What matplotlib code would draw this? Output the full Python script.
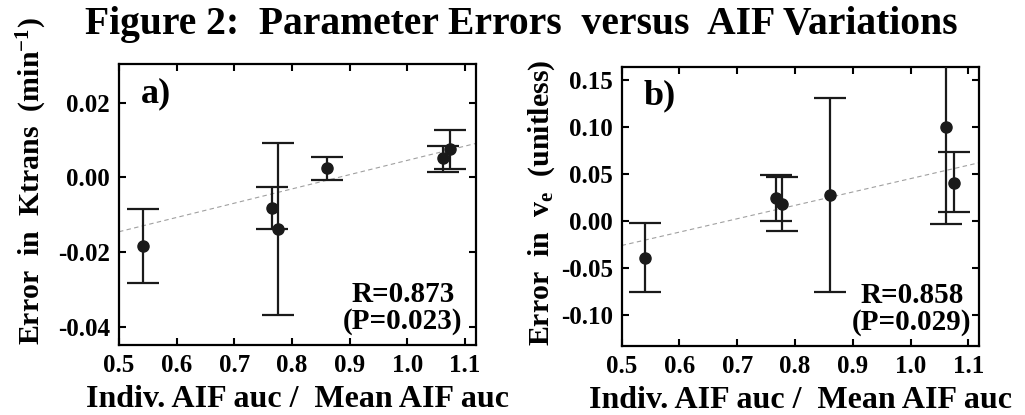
import matplotlib
matplotlib.use("Agg")
import matplotlib.pyplot as plt
import numpy as np

plt.rcParams['font.family'] = ['Liberation Serif', 'DejaVu Serif']
plt.rcParams['font.weight'] = 'bold'
plt.rcParams['mathtext.fontset'] = 'custom'
plt.rcParams['mathtext.rm'] = 'Liberation Serif:bold'
plt.rcParams['mathtext.it'] = 'Liberation Serif:bold'
plt.rcParams['mathtext.bf'] = 'Liberation Serif:bold'

# Panel a: Ktrans error
xa = [0.542, 0.766, 0.776, 0.861, 1.062, 1.074]
ya = [-0.0183, -0.0083, -0.0138, 0.0026, 0.0051, 0.0076]
ya_hi = [-0.0085, -0.0027, 0.0092, 0.0055, 0.0085, 0.0128]
ya_lo = [-0.0282, -0.0138, -0.0369, -0.0007, 0.0015, 0.0023]
fit_a_x = [0.5, 1.1185]
fit_a_y = [-0.01455, 0.0091]

# Panel b: ve error
xb = [0.541, 0.7665, 0.777, 0.860, 1.061, 1.0745]
yb = [-0.039, 0.0245, 0.0181, 0.027, 0.100, 0.0404]
yb_hi = [-0.0028, 0.0489, 0.0461, 0.130, 0.2035, 0.0727]
yb_lo = [-0.0752, -0.0007, -0.0106, -0.0752, -0.0035, 0.0089]
fit_b_x = [0.5, 1.1185]
fit_b_y = [-0.0262, 0.0617]

xticks = [0.5, 0.6, 0.7, 0.8, 0.9, 1.0, 1.1]
yticks_a = [-0.04, -0.02, 0.00, 0.02]
yticks_b = [-0.10, -0.05, 0.00, 0.05, 0.10, 0.15]

fig = plt.figure(figsize=(10.25, 4.15), dpi=100)
axa = fig.add_axes([0.1161, 0.1687, 0.348, 0.6763])
axb = fig.add_axes([0.6065, 0.1663, 0.3486, 0.673])

def draw(ax, x, y, hi, lo, fx, fy, yticks, ylim, ylabel, ylab_x, panel, rtxt, rx):
    x = np.array(x); y = np.array(y)
    err = [y - np.array(lo), np.array(hi) - y]
    ax.plot(fx, fy, ls=(0, (4, 3)), color='#a0a0a0', lw=0.8, zorder=1)
    ax.errorbar(x, y, yerr=err, fmt='o', color='#1a1a1a', ms=8,
                elinewidth=1.6, capsize=11.2, capthick=1.6, zorder=3)
    ax.set_xlim(0.5, 1.1185)
    ax.set_ylim(*ylim)
    ax.set_xticks(xticks)
    ax.set_xticklabels([f"{t:.1f}" for t in xticks])
    ax.set_yticks(yticks)
    ax.set_yticklabels([f"{t:.2f}" for t in yticks])
    ax.tick_params(direction='in', top=True, right=True, length=5, width=1.5,
                   labelsize=18, pad=6.5)
    for s in ax.spines.values():
        s.set_linewidth(1.6)
    ax.set_xlabel("Indiv. AIF auc /  Mean AIF auc", fontsize=23, fontweight='bold', labelpad=6)
    ax.set_ylabel(ylabel, fontsize=21.5, fontweight='bold', loc='bottom')
    ax.yaxis.set_label_coords(ylab_x, 0.0)
    ax.text(0.06, 0.955, panel, transform=ax.transAxes, fontsize=26,
            fontweight='bold', va='top', ha='left')
    ax.text(rx, 0.035, rtxt, transform=ax.transAxes, fontsize=21,
            fontweight='bold', va='bottom', ha='center', linespacing=1.0)

draw(axa, xa, ya, ya_hi, ya_lo, fit_a_x, fit_a_y, yticks_a, (-0.0449, 0.0303),
     r"Error  in  Ktrans  (min$^{\mathbf{-1}}$)", -0.195, "a)", "R=0.873\n(P=0.023)", 0.796)
draw(axb, xb, yb, yb_hi, yb_lo, fit_b_x, fit_b_y, yticks_b, (-0.133, 0.1638),
     r"Error  in  v$_{\mathbf{e}}$  (unitless)", -0.182, "b)", "R=0.858\n(P=0.029)", 0.8125)

fig.text(0.509, 0.985, "Figure 2:  Parameter Errors  versus  AIF Variations",
         fontsize=28.5, fontweight='bold', ha='center', va='top')

fig.savefig("out.png", dpi=100)
